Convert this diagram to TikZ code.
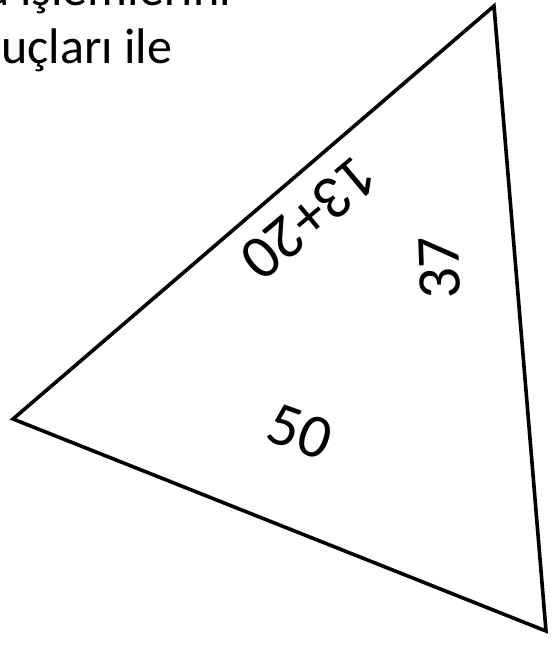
\documentclass[tikz,border=0pt]{standalone}
\usepackage{fontspec}
\setmainfont{Carlito}
\usetikzlibrary{positioning}

\begin{document}
\begin{tikzpicture}[
    x=1pt,y=-1pt,
    side/.style={line width=3.6pt,line join=miter},
    sum/.style={font=\fontsize{62}{62}\selectfont,inner sep=0pt},
    prose/.style={font=\fontsize{50}{58}\selectfont,anchor=base west,inner sep=0pt}
]
\useasboundingbox (0,0) rectangle (551,647);
\node[prose] (line1) at (-15,6) {a işlemlerini};
\node[prose] (line2) at (1,64) {uçları ile};
\coordinate (apex) at (494,6);
\coordinate (west) at (13,419);
\coordinate (corner) at (546,631);
\draw[side] (apex) -- (west) -- (corner) -- cycle;
\node[sum,rotate=220] (add) at (309,218) {13+20};
\node[sum,rotate=92] (right) at (440,268) {37};
\node[sum,rotate=-20] (total) at (300,432) {50};
\end{tikzpicture}
\end{document}
